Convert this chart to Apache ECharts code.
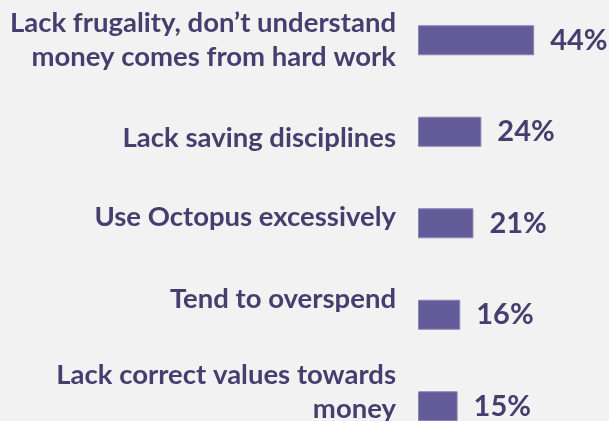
<!DOCTYPE html>
<html>
<head>
<meta charset="utf-8">
<script src="https://cdn.jsdelivr.net/npm/echarts@6/dist/echarts.min.js"></script>
<style>
  html, body { margin: 0; padding: 0; background: #f2f2f2; }
  #chart { width: 609px; height: 421px; }
</style>
</head>
<body>
<div id="chart"></div>
<script>
// categories, top to bottom
const categories = [
    'Lack frugality, don\u2019t understand\nmoney comes from hard work',
    'Lack saving disciplines',
    'Use Octopus excessively',
    'Tend to overspend',
    'Lack correct values towards\nmoney'
];
const percentages = [44, 24, 21, 16, 15];
// small vertical nudges of the text labels (the original text box isn't quite aligned with bars)
const labelShift = [0, 6, -6, -16, -14];

const barColor = '#645c98';
const textColor = '#463e6e';

// spacer lines: an empty line of height 2*|shift| above or below moves the label by shift
const rich = {};
labelShift.forEach((s, i) => {
    const h = Math.max(2 * Math.abs(s), 1);
    rich['g' + i] = { height: h, lineHeight: h, fontSize: 1 };
});

function formatLabel(value, idx) {
    const s = labelShift[idx];
    if (s > 0) return '{g' + idx + '| }\n' + value;
    if (s < 0) return value + '\n{g' + idx + '| }';
    return value;
}

const chart = echarts.init(document.getElementById('chart'));

const option = {
    backgroundColor: '#f2f2f2',
    animation: false,
    grid: { left: 418, top: -5.5, right: 59, bottom: -31, outerBoundsMode: 'none', containLabel: false },
    xAxis: {
        type: 'value', min: 0, max: 50, show: false
    },
    yAxis: {
        type: 'category',
        inverse: true,
        data: categories,
        axisLine: { show: false },
        axisTick: { show: false },
        axisLabel: {
            margin: 22,
            align: 'right',
            formatter: formatLabel,
            rich: rich,
            color: textColor,
            fontFamily: 'Lato',
            fontWeight: 'bold',
            fontSize: 27.5,
            lineHeight: 34
        }
    },
    series: [{
        type: 'bar',
        data: percentages,
        barWidth: 30,
        itemStyle: { color: barColor, borderColor: '#8a83b8', borderWidth: 1 },
        label: {
            show: true,
            position: 'right',
            distance: 16,
            formatter: '{c}%',
            color: textColor,
            fontFamily: 'Lato',
            fontWeight: 'bold',
            fontSize: 29
        }
    }]
};

chart.setOption(option);
</script>
</body>
</html>
